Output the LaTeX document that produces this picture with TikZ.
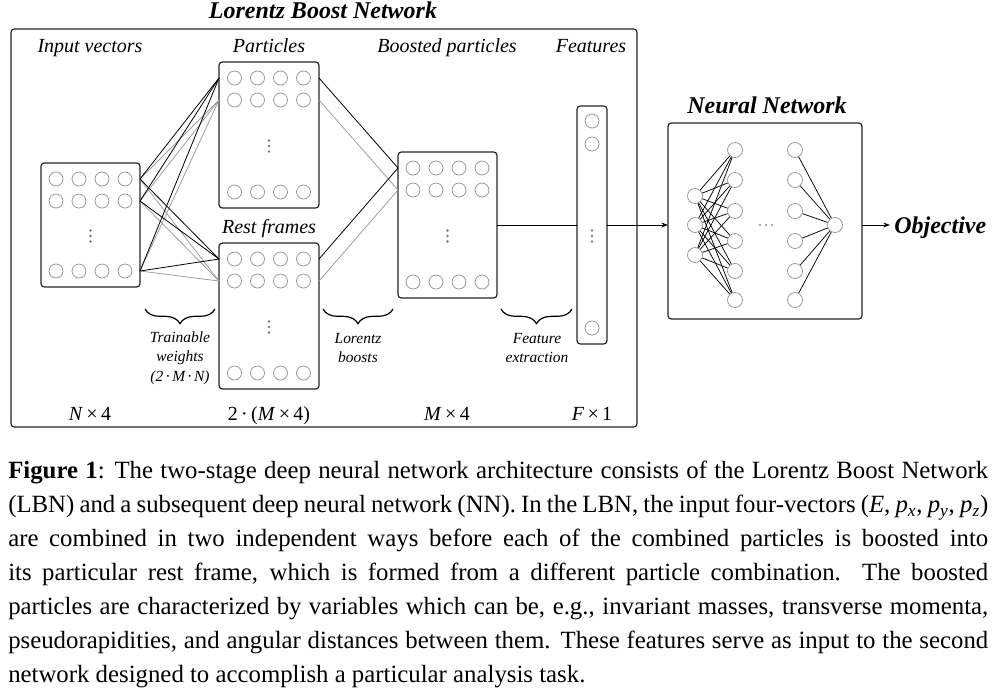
\documentclass[tikz,border=0pt]{standalone}
\usepackage{fontspec}
\setmainfont{Liberation Serif}
\usetikzlibrary{decorations.pathreplacing,arrows.meta}
\definecolor{dotc}{RGB}{110,122,145}
\newcommand\lbnvdots[2]{%
  \foreach \dy in {-5.5,0,5.5}{%
    \pgfmathsetmacro\yy{#2+\dy}%
    \fill[dotc] (#1,\yy) circle[radius=1.1pt];}}
\newcommand\lbnbox[5]{% name, cx, cy, w, h
  \node[box, minimum width={#4*0.75pt}, minimum height={#5*0.75pt}] (#1) at (#2,#3) {};
  \pgfmathsetmacro\rA{#3-#5/2+16}%
  \pgfmathsetmacro\rB{#3-#5/2+38}%
  \pgfmathsetmacro\rC{#3+#5/2-16}%
  \foreach \dx [count=\k] in {-34.5,-11.5,11.5,34.5}{%
    \pgfmathsetmacro\xx{#2+\dx}%
    \node[cell] (#1-1-\k) at (\xx,\rA) {};
    \node[cell] (#1-2-\k) at (\xx,\rB) {};
    \node[cell] (#1-3-\k) at (\xx,\rC) {};
  }%
  \pgfmathsetmacro\yd{#3+11}%
  \lbnvdots{#2}{\yd}%
}
\begin{document}
\begin{tikzpicture}[x=0.75pt,y=-0.75pt,
  box/.style={draw=black!85, rounded corners=2.5pt, line width=0.9pt, inner sep=0pt, outer sep=0pt},
  cell/.style={circle, draw=black!40, line width=0.6pt, minimum size=10.5pt, inner sep=0pt},
  nnode/.style={circle, draw=black!40, fill=white, line width=0.6pt, minimum size=11.25pt, inner sep=0pt},
  lab/.style={font=\fontsize{15}{18}\selectfont\itshape, inner sep=0pt, anchor=base},
  dimlab/.style={font=\fontsize{15}{18}\selectfont, inner sep=0pt, anchor=base},
  note/.style={font=\fontsize{11.6}{14.6}\selectfont\itshape, align=center, inner sep=0pt},
  ttl/.style={font=\fontsize{18}{22}\selectfont\bfseries\itshape, inner sep=0pt, anchor=base},
  blk/.style={line width=0.6pt, draw=black},
  gry/.style={line width=0.6pt, draw=black!38},
  nnedge/.style={line width=0.55pt, draw=black},
  brc/.style={decorate, decoration={brace, mirror, amplitude=11pt}, line width=0.9pt},
  tip/.style={-{Stealth[length=5pt,width=3.6pt]}}
]
\useasboundingbox (0,0) rectangle (999,694);

% ---------- Lorentz Boost Network frame ----------
\node[ttl] (t-lbn) at (323,18) {Lorentz Boost Network};
\node[box, minimum width={626*0.75pt}, minimum height={398*0.75pt}] (lbn) at (324,228) {};

\node[lab] (l-inp) at (90,52) {Input vectors};
\node[lab] (l-par) at (269,52) {Particles};
\node[lab] (l-bst) at (447,52) {Boosted particles};
\node[lab] (l-fea) at (591,52) {Features};
\node[lab] (l-res) at (269,233) {Rest frames};

\lbnbox{inp}{90.5}{225}{99}{124}
\lbnbox{par}{269}{135}{100}{146}
\lbnbox{res}{269}{316}{100}{146}
\lbnbox{bst}{447.5}{225}{99}{146}

% features column
\node[box, minimum width={30*0.75pt}, minimum height={238*0.75pt}] (fea) at (592,225) {};
\node[cell] (fea-1) at (592,121) {};
\node[cell] (fea-2) at (592,144) {};
\node[cell] (fea-3) at (592,328) {};
\lbnvdots{592}{236}

% connector end points on the box edges
\foreach \r in {1,2,3}{\coordinate (inp-o\r) at (inp.east |- inp-\r-4);}
\foreach \r in {1,2}{
  \coordinate (par-i\r) at (par.west |- par-\r-1);
  \coordinate (par-o\r) at (par.east |- par-\r-4);
  \coordinate (res-i\r) at (res.west |- res-\r-1);
  \coordinate (res-o\r) at (res.east |- res-\r-4);
  \coordinate (bst-i\r) at (bst.west |- bst-\r-1);
}

% trainable weights
\foreach \r in {1,2,3}{
  \draw[gry] (inp-o\r) -- (par-i2);
  \draw[gry] (inp-o\r) -- (res-i2);
}
\foreach \r in {1,2,3}{
  \draw[blk] (inp-o\r) -- (par-i1);
  \draw[blk] (inp-o\r) -- (res-i1);
}
% boosts
\draw[gry] (par-o2) -- (bst-i2);
\draw[gry] (res-o2) -- (bst-i2);
\draw[blk] (par-o1) -- (bst-i1);
\draw[blk] (res-o1) -- (bst-i1);
% feature extraction
\draw[blk] (bst.east) -- (fea.west);

% braces
\draw[brc] (145,309) -- (215,309);
\draw[brc] (323,309) -- (393,309);
\draw[brc] (501,309) -- (572,309);
\node[note] (n-tw) at (180,358) {Trainable\\weights\\(2\,·\,\textit{M}\,·\,\textit{N})};
\node[note] (n-lb) at (358,348) {Lorentz\\boosts};
\node[note] (n-fe) at (537,348) {Feature\\extraction};

% dimensions
\node[dimlab] (d-inp) at (90,420) {\textit{N}\,×\,4};
\node[dimlab] (d-par) at (269,420) {2\,·\,(\textit{M}\,×\,4)};
\node[dimlab] (d-bst) at (447,420) {\textit{M}\,×\,4};
\node[dimlab] (d-fea) at (592,420) {\textit{F}\,×\,1};

% ---------- Neural network ----------
\node[ttl] (t-nn) at (767,113) {Neural Network};
\node[box, minimum width={194*0.75pt}, minimum height={196*0.75pt}] (nn) at (765,221) {};
\foreach \y [count=\i] in {196,225,255}{\node[nnode] (n0-\i) at (695,\y) {};}
\foreach \y [count=\i] in {150,180,211,241,271,300}{
  \node[nnode] (n1-\i) at (735,\y) {};
  \node[nnode] (n2-\i) at (795,\y) {};
}
\node[nnode] (nout) at (835,225) {};
\foreach \i in {1,2,3}{\foreach \j in {1,...,6}{\draw[nnedge] (n0-\i) -- (n1-\j);}}
\foreach \j in {1,...,6}{\draw[nnedge] (n2-\j) -- (nout);}
\foreach \x in {760,766,772}{\fill[black!45] (\x,225) circle[radius=0.8pt];}

\draw[blk, tip] (fea.east) -- (nn.west |- fea.east);
\node[ttl, anchor=base west, inner xsep=3pt] (obj) at (890,233) {Objective};
\draw[blk, tip] (nn.east |- nout) -- (obj.west |- nout);

% ---------- caption ----------
\node[anchor=north west, text width=735pt, align=justify, inner sep=0pt,
      font=\fontsize{18.6}{25.5}\selectfont] (cap) at (8,461)
{\textbf{Figure 1}:\hspace{0.4em}The two-stage deep neural network architecture consists of the Lorentz Boost Network\linebreak
(LBN) and a subsequent deep neural network (NN). In the LBN, the input four-vectors (\textit{E}, \textit{p}\textsubscript{\textit{x}}, \textit{p}\textsubscript{\textit{y}}, \textit{p}\textsubscript{\textit{z}})\linebreak
are combined in two independent ways before each of the combined particles is boosted into\linebreak
its particular rest frame, which is formed from a different particle combination.  The boosted\linebreak
particles are characterized by variables which can be, e.g., invariant masses, transverse momenta,\linebreak
pseudorapidities, and angular distances between them. These features serve as input to the second\linebreak
network designed to accomplish a particular analysis task.};
\end{tikzpicture}
\end{document}
